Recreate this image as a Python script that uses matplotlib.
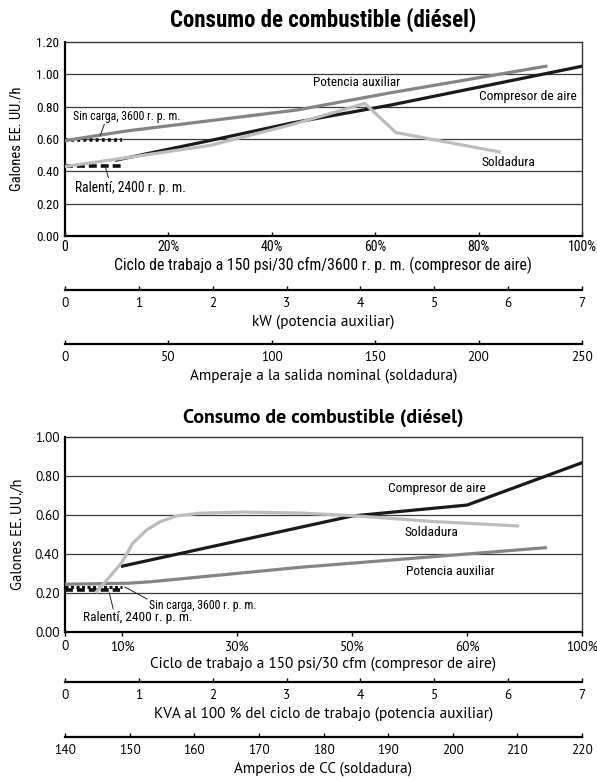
import numpy as np
import matplotlib
matplotlib.use('Agg')
import matplotlib.pyplot as plt

NARROW = ['Roboto Condensed', 'Liberation Sans Narrow', 'DejaVu Sans']
WIDE = ['PT Sans', 'Lato', 'DejaVu Sans']

TITLE = 'Consumo de combustible (diésel)'
YLABEL = 'Galones EE. UU./h'

# ---- top chart (duty cycle %, gal/h) ----
top_comp_x = [10, 28, 44, 63, 100]
top_comp_y = [0.47, 0.59, 0.70, 0.81, 1.05]
top_aux_x = [0, 12, 45, 63, 93]
top_aux_y = [0.59, 0.65, 0.78, 0.886, 1.05]
top_weld_x = [0, 11, 28, 44, 58, 64, 84]
top_weld_y = [0.43, 0.48, 0.56, 0.69, 0.82, 0.64, 0.52]
top_noload_x = [0, 11]
top_noload_y = [0.593, 0.593]
top_idle_x = [0, 11]
top_idle_y = [0.43, 0.43]
top_xticks = [0, 20, 40, 60, 80, 100]
top_xticklabels = ['0', '20%', '40%', '60%', '80%', '100%']
top_yticks = [0.0, 0.2, 0.4, 0.6, 0.8, 1.0, 1.2]

# ---- bottom chart (duty cycle %, gal/h) ----
bot_comp_x = [10, 50, 60, 100]
bot_comp_y = [0.338, 0.595, 0.651, 0.868]
bot_aux_x = [0, 11, 15, 41, 87.2]
bot_aux_y = [0.245, 0.25, 0.258, 0.332, 0.432]
bot_weld_x = [5.5, 7.8, 9.8, 11.8, 14.2, 16.6, 19.4, 23.4, 31, 41, 50, 57.2, 77.6]
bot_weld_y = [0.207, 0.284, 0.353, 0.455, 0.523, 0.566, 0.595, 0.609, 0.615, 0.61, 0.597, 0.566, 0.544]
bot_noload_x = [0, 10]
bot_noload_y = [0.232, 0.232]
bot_idle_x = [0, 9.6]
bot_idle_y = [0.213, 0.213]
bot_xticks = [0, 10, 30, 50, 60, 100]
bot_xticklabels = ['0', '10%', '30%', '50%', '60%', '100%']
bot_yticks = [0.0, 0.2, 0.4, 0.6, 0.8, 1.0]

# extra scales under each chart
top_kw_ticks = [0, 1, 2, 3, 4, 5, 6, 7]
top_amp_ticks = [0, 50, 100, 150, 200, 250]
bot_kva_ticks = [0, 1, 2, 3, 4, 5, 6, 7]
bot_amp_ticks = [140, 150, 160, 170, 180, 190, 200, 210, 220]

C_COMP = '#1a1a1a'
C_AUX = '#858585'
C_WELD = '#bdbdbd'
C_GRID = '#3a3a3a'

W, H = 597, 781
fig = plt.figure(figsize=(W / 100, H / 100), dpi=100)


def fx(px):
    return px / W


def fy(py):
    return 1 - py / H


L, R = 65, 582


def main_axes(top, bottom, yticks, tickdir, tickfont):
    ax = fig.add_axes([fx(L), fy(bottom), fx(R - L), (bottom - top) / H])
    ax.set_ylim(yticks[0], yticks[-1])
    ax.set_yticks(yticks)
    ax.set_yticklabels(['%.2f' % v for v in yticks], family=tickfont, fontsize=9.5)
    for v in yticks[1:-1]:
        ax.axhline(v, color=C_GRID, lw=0.9, zorder=1)
    ax.spines['left'].set_linewidth(1.6)
    ax.spines['bottom'].set_linewidth(1.6)
    ax.spines['top'].set_linewidth(1.0)
    ax.spines['right'].set_linewidth(1.0)
    ax.spines['top'].set_color('#333333')
    ax.spines['right'].set_color('#333333')
    ax.tick_params(axis='y', length=0, pad=4)
    ax.tick_params(axis='x', direction=tickdir, length=3, width=1, pad=3)
    return ax


def scale_axes(ypx, lim, ticks, label, font, labelpad):
    s = fig.add_axes([fx(L), fy(ypx), fx(R - L), 0.0001])
    s.set_xlim(lim)
    s.set_xticks(ticks)
    s.set_xticklabels([str(t) for t in ticks], family=font, fontsize=9.5)
    s.set_yticks([])
    for sp in ['left', 'right', 'top']:
        s.spines[sp].set_visible(False)
    s.spines['bottom'].set_linewidth(1.6)
    s.tick_params(axis='x', direction='in', length=3, width=1, pad=5)
    s.set_xlabel(label, family=font, fontsize=11, labelpad=labelpad)
    s.patch.set_visible(False)
    return s


# ================= top chart =================
ax1 = main_axes(42, 236, top_yticks, 'in', NARROW)
ax1.set_xlim(0, 100)
ax1.set_xticks(top_xticks)
ax1.set_xticklabels(top_xticklabels, family=NARROW, fontsize=10)
ax1.set_xlabel('Ciclo de trabajo a 150 psi/30 cfm/3600 r. p. m. (compresor de aire)',
               family=NARROW, fontsize=11.3, labelpad=2)
ax1.set_ylabel(YLABEL, family=NARROW, fontsize=10.5, labelpad=9)

ax1.plot(top_idle_x, top_idle_y, color='#111111', lw=2.6, ls=(0, (2.2, 1.1)), zorder=3)
ax1.plot(top_noload_x, top_noload_y, color='#111111', lw=2.6, ls=(0, (0.8, 0.9)), zorder=3)
ax1.plot(top_comp_x, top_comp_y, color=C_COMP, lw=2.3, zorder=4)
ax1.plot(top_weld_x, top_weld_y, color=C_WELD, lw=2.3, zorder=5)
ax1.plot(top_aux_x, top_aux_y, color=C_AUX, lw=2.3, zorder=6)

ax1.text(48, 0.95, 'Potencia auxiliar', family=NARROW, fontsize=9.5, va='center')
ax1.text(99, 0.86, 'Compresor de aire', family=NARROW, fontsize=9.7, va='center', ha='right')
ax1.text(85.7, 0.455, 'Soldadura', family=NARROW, fontsize=9.7, va='center', ha='center')
ax1.text(1.5, 0.74, 'Sin carga, 3600 r. p. m.', family=NARROW, fontsize=8.5, va='center')
ax1.text(1.9, 0.30, 'Ralentí, 2400 r. p. m.', family=NARROW, fontsize=9.8, va='center')
ax1.plot([7.6, 6.8], [0.69, 0.62], color='#222222', lw=0.7, zorder=7)
ax1.plot([7.7, 8.4], [0.44, 0.36], color='#222222', lw=0.7, zorder=7)

fig.text(fx((L + R) / 2), fy(20), TITLE, family=NARROW, fontsize=16.5,
         fontweight='bold', ha='center', va='center')

scale_axes(290, (0, 7), top_kw_ticks, 'kW (potencia auxiliar)', WIDE, 3)
scale_axes(344, (0, 250), top_amp_ticks, 'Amperaje a la salida nominal (soldadura)', WIDE, 3)

# ================= bottom chart =================
bot_pos = [0, 0.5, 1.5, 2.5, 3.5, 4.5]


def fwd(x):
    return np.interp(x, bot_xticks, bot_pos)


def inv(u):
    return np.interp(u, bot_pos, bot_xticks)


ax2 = main_axes(437, 632, bot_yticks, 'out', WIDE)
ax2.set_xscale('function', functions=(fwd, inv))
ax2.set_xlim(0, 100)
ax2.set_xticks(bot_xticks)
ax2.set_xticklabels(bot_xticklabels, family=WIDE, fontsize=9.5)
ax2.set_xlabel('Ciclo de trabajo a 150 psi/30 cfm (compresor de aire)',
               family=WIDE, fontsize=11, labelpad=2)
ax2.set_ylabel(YLABEL, family=WIDE, fontsize=10.5, labelpad=7)

ax2.plot(bot_idle_x, bot_idle_y, color='#111111', lw=2.6, ls=(0, (2.2, 1.1)), zorder=3)
ax2.plot(bot_noload_x, bot_noload_y, color='#111111', lw=2.2, ls=(0, (1.0, 0.8)), zorder=3)
ax2.plot(bot_aux_x, bot_aux_y, color=C_AUX, lw=2.3, zorder=4)
ax2.plot(bot_comp_x, bot_comp_y, color=C_COMP, lw=2.3, zorder=5)
ax2.plot(bot_weld_x, bot_weld_y, color=C_WELD, lw=2.3, zorder=6)

ax2.text(57.4, 0.738, 'Compresor de aire', family=NARROW, fontsize=9.7, va='center', ha='center')
ax2.text(56.9, 0.508, 'Soldadura', family=NARROW, fontsize=9.7, va='center', ha='center')
ax2.text(58.5, 0.308, 'Potencia auxiliar', family=NARROW, fontsize=9.7, va='center', ha='center')
ax2.text(14.6, 0.138, 'Sin carga, 3600 r. p. m.', family=NARROW, fontsize=8.5, va='center')
ax2.text(3.1, 0.072, 'Ralentí, 2400 r. p. m.', family=NARROW, fontsize=9.6, va='center')
ax2.plot([10.4, 14.3], [0.231, 0.169], color='#222222', lw=0.7, zorder=7)
ax2.plot([7.7, 8.4], [0.20, 0.118], color='#222222', lw=0.7, zorder=7)

fig.text(fx((L + R) / 2), fy(418), TITLE, family=WIDE, fontsize=14.3,
         fontweight='bold', ha='center', va='center')

scale_axes(682, (0, 7), bot_kva_ticks,
           'KVA al 100 % del ciclo de trabajo (potencia auxiliar)', WIDE, 3)
scale_axes(737, (140, 220), bot_amp_ticks, 'Amperios de CC (soldadura)', WIDE, 3)

fig.savefig('out.png', dpi=100)
